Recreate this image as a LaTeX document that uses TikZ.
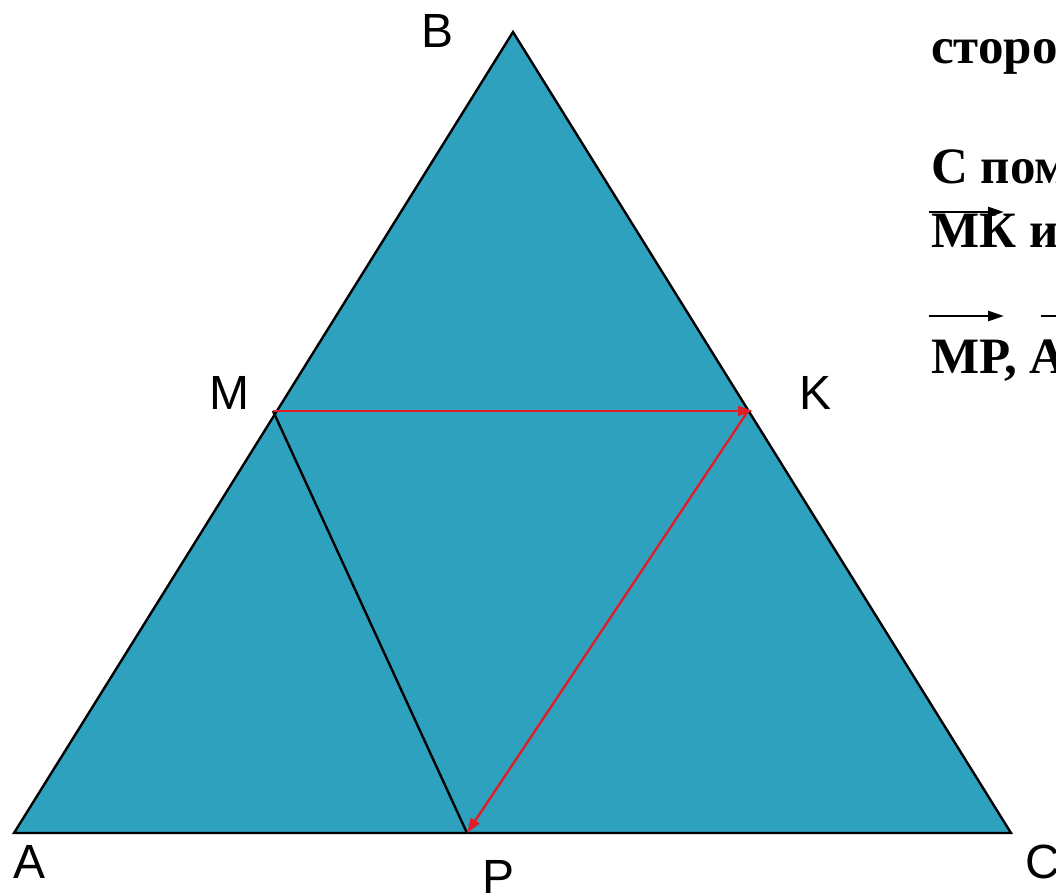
\documentclass[tikz,border=0pt]{standalone}
\usepackage{fontspec}
\setmainfont{Liberation Serif}
\newfontfamily\lblfont{Liberation Sans}
\usetikzlibrary{arrows.meta}
\definecolor{tealfill}{RGB}{46,161,191}
\definecolor{vecred}{RGB}{225,30,40}
\begin{document}
\begin{tikzpicture}[x=1pt,y=-1pt,
 lbl/.style={font=\lblfont\fontsize{48}{48}\selectfont, inner sep=0pt, anchor=base west},
 txt/.style={font=\bfseries\fontsize{51}{51}\selectfont, inner sep=0pt, anchor=base west},
 vec/.style={draw=vecred, line width=2.4pt, -{Triangle[length=15pt,width=10pt]}},
 side/.style={draw=black, line width=2.4pt, line join=miter},
 barrow/.style={draw=black, line width=2.6pt, -{Triangle[length=16pt,width=10pt]}}]
\useasboundingbox (0,0) rectangle (1056,895);
\coordinate (A) at (14,833);
\coordinate (B) at (513,32);
\coordinate (C) at (1011,833);
\coordinate (M) at (273,411);
\coordinate (K) at (748,411);
\coordinate (Ktip) at (753,411);
\coordinate (P) at (467,833);
\fill[tealfill] (A) -- (B) -- (C) -- cycle;
\draw[side] (A) -- (B) -- (C) -- cycle;
\draw[side] (M) -- (P);
\draw[vec] (M) -- (Ktip);
\draw[vec] (K) -- (P);
\node[lbl] (lB) at (421,47) {B};
\node[lbl] (lM) at (209,409) {M};
\node[lbl] (lK) at (799,409) {K};
\node[lbl] (lA) at (13,878) {A};
\node[lbl] (lP) at (482,893) {P};
\node[lbl] (lC) at (1025,878) {C};
\node[txt] (t1) at (931,63) {сторо};
\node[txt] (t2) at (931,183) {С пом};
\node[txt] (t3) at (931,247) {МК и};
\node[txt] (t4) at (931,373) {МР, А};
\coordinate (a1s) at (929,212);
\coordinate (a1e) at (1004,212);
\coordinate (a2s) at (929,316);
\coordinate (a2e) at (1004,316);
\coordinate (a3s) at (1041,316);
\coordinate (a3e) at (1116,316);
\draw[barrow] (a1s) -- (a1e);
\draw[barrow] (a2s) -- (a2e);
\draw[barrow] (a3s) -- (a3e);
\end{tikzpicture}
\end{document}
